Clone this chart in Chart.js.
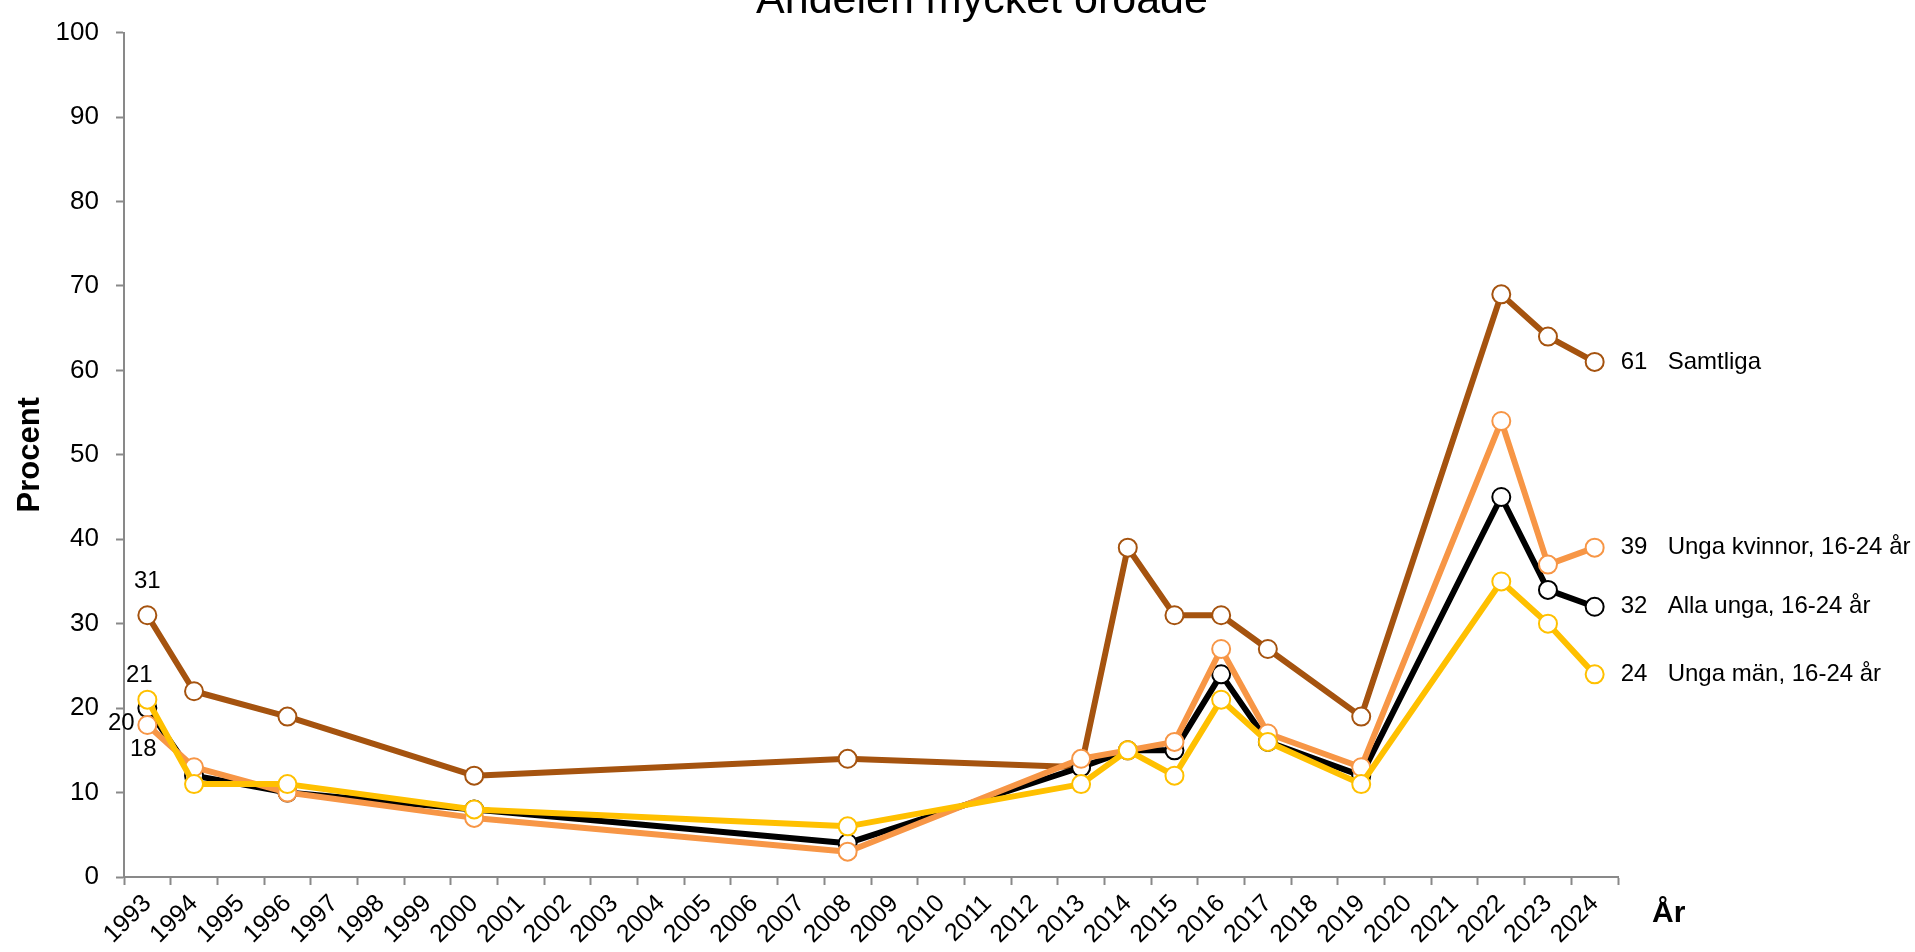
<!DOCTYPE html>
<html lang="sv">
<head>
<meta charset="utf-8">
<title>Andelen mycket oroade</title>
<script src="https://cdn.jsdelivr.net/npm/chart.js@4/dist/chart.umd.min.js"></script>
<style>
  html, body { margin: 0; padding: 0; background: #fff; overflow: hidden; }
  #chart { display: block; }
</style>
</head>
<body>
<canvas id="chart" width="1915" height="952"></canvas>
<script>
// Data
const years = ['1993', '1994', '1995', '1996', '1997', '1998', '1999', '2000', '2001', '2002',
               '2003', '2004', '2005', '2006', '2007', '2008', '2009', '2010', '2011', '2012',
               '2013', '2014', '2015', '2016', '2017', '2018', '2019', '2020', '2021', '2022',
               '2023', '2024'];
const surveyYears = ['1993', '1994', '1996', '2000', '2008', '2013', '2014', '2015', '2016', '2017', '2019', '2022', '2023', '2024'];

const samtliga     = [31, 22, 19, 12, 14, 13, 39, 31, 31, 27, 19, 69, 64, 61];
const allaUnga     = [20, 12, 10,  8,  4, 13, 15, 15, 24, 16, 12, 45, 34, 32];
const ungaKvinnor  = [18, 13, 10,  7,  3, 14, 15, 16, 27, 17, 13, 54, 37, 39];
const ungaMan      = [21, 11, 11,  8,  6, 11, 15, 12, 21, 16, 11, 35, 30, 24];

const yTicks = [0, 10, 20, 30, 40, 50, 60, 70, 80, 90, 100];

const FONT = '"Liberation Sans", Arial, sans-serif';

// spread survey values over the full year axis (null where no survey)
function onYears(values) {
    return years.map(y => {
        const i = surveyYears.indexOf(y);
        return i < 0 ? null : values[i];
    });
}

function series(label, values, color, order, firstOffset) {
    return {
        label: label,
        data: onYears(values),
        borderColor: color,
        backgroundColor: color,
        borderWidth: 6,
        borderJoinStyle: 'round',
        spanGaps: true,
        tension: 0,
        pointRadius: 9,
        pointHoverRadius: 9,
        pointBorderWidth: 2,
        pointBackgroundColor: '#fff',
        pointBorderColor: color,
        order: order,
        firstOffset: firstOffset
    };
}

// Labels at the first and last points, title and x axis name
const labelPlugin = {
    id: 'seriesLabels',
    afterDatasetsDraw(chart) {
        const ctx = chart.ctx;
        const xs = chart.scales.x;
        const ys = chart.scales.y;
        ctx.save();
        ctx.fillStyle = '#000';
        ctx.font = '24px ' + FONT;
        ctx.textBaseline = 'middle';
        chart.data.datasets.forEach(ds => {
            const idx = ds.data.map((v, i) => v == null ? -1 : i).filter(i => i >= 0);
            const first = idx[0];
            const last = idx[idx.length - 1];

            const fx = xs.getPixelForValue(first);
            const fy = ys.getPixelForValue(ds.data[first]);
            ctx.textAlign = 'center';
            ctx.fillText(String(ds.data[first]), fx + ds.firstOffset[0], fy + ds.firstOffset[1]);

            const lx = xs.getPixelForValue(last);
            const ly = ys.getPixelForValue(ds.data[last]);
            ctx.textAlign = 'left';
            ctx.fillText(String(ds.data[last]), lx + 26, ly);
            ctx.fillText(ds.label, lx + 73, ly);
        });

        ctx.textBaseline = 'alphabetic';
        ctx.font = 'bold 30px ' + FONT;
        ctx.textAlign = 'left';
        ctx.fillText('År', chart.chartArea.right + 34, 922);

        // title sits partly above the top edge, as in the original
        ctx.font = '43px ' + FONT;
        ctx.textAlign = 'center';
        ctx.fillText('Andelen mycket oroade', 982, 13);
        ctx.restore();
    }
};

const ctx = document.getElementById('chart').getContext('2d');
new Chart(ctx, {
    type: 'line',
    data: {
        labels: years,
        datasets: [
            series('Samtliga', samtliga, '#A5530F', 4, [0, -34]),
            series('Alla unga, 16-24 år', allaUnga, '#000000', 3, [-26, 15]),
            series('Unga kvinnor, 16-24 år', ungaKvinnor, '#F79646', 2, [-4, 24]),
            series('Unga män, 16-24 år', ungaMan, '#FFC000', 1, [-8, -24])
        ]
    },
    options: {
        responsive: false,
        animation: false,
        events: [],
        layout: { padding: { left: 0, right: 297, top: 24, bottom: 0 } },
        plugins: {
            legend: { display: false },
            tooltip: { enabled: false },
            title: { display: false }
        },
        scales: {
            x: {
                type: 'category',
                offset: true,
                grid: {
                    offset: true,
                    drawOnChartArea: false,
                    tickLength: 8,
                    tickWidth: 2,
                    tickColor: '#898989'
                },
                border: { color: '#898989', width: 2 },
                ticks: {
                    autoSkip: false,
                    minRotation: 45,
                    maxRotation: 45,
                    padding: 4,
                    color: '#000',
                    font: { family: FONT, size: 25 }
                },
                afterFit(scale) { scale.height = 75; }
            },
            y: {
                min: 0,
                max: 100,
                afterBuildTicks(scale) { scale.ticks = yTicks.map(v => ({ value: v })); },
                grid: {
                    drawOnChartArea: false,
                    tickLength: 8,
                    tickWidth: 2,
                    tickColor: '#898989'
                },
                border: { color: '#898989', width: 2 },
                ticks: {
                    padding: 17,
                    color: '#000',
                    font: { family: FONT, size: 26 }
                },
                title: {
                    display: true,
                    text: 'Procent',
                    color: '#000',
                    padding: { top: 12, bottom: 0 },
                    font: { family: FONT, size: 31, weight: 'bold' }
                },
                afterFit(scale) { scale.width = 124; }
            }
        }
    },
    plugins: [labelPlugin]
});
</script>
</body>
</html>
